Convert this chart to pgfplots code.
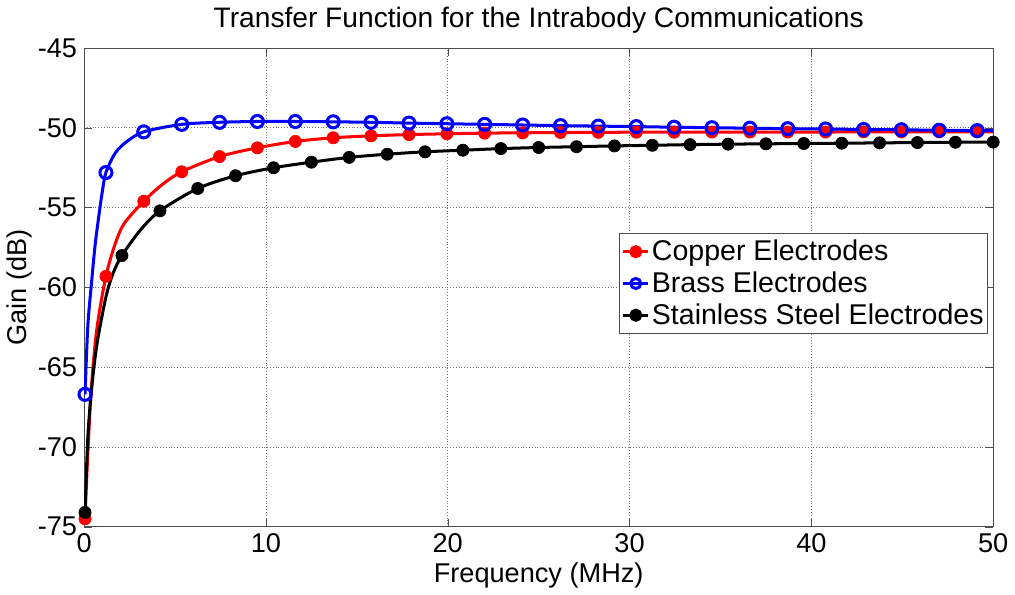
\documentclass[border=0pt]{standalone}
\usepackage{pgfplots}
\pgfplotsset{compat=1.18}
\usepackage{fontspec}
\setmainfont{Liberation Sans}
\begin{document}
\begin{tikzpicture}
\begin{axis}[
  scale only axis, width=452pt, height=238pt,
  xmin=0, xmax=50, ymin=-75, ymax=-45,
  xtick={0,10,...,50}, ytick={-75,-70,...,-45},
  grid=major, major grid style={black!55, densely dotted, line width=0.4pt},
  axis line style={black!70, line width=0.5pt},
  tick align=inside, major tick length=4pt, tick style={black!70},
  ticklabel style={font=\fontsize{13.5}{16}\selectfont},
  /pgf/number format/assume math mode=true,
  title={Transfer Function for the Intrabody Communications},
  title style={font=\fontsize{14}{16}\selectfont, yshift=-2pt},
  xlabel={Frequency (MHz)}, ylabel={Gain (dB)},
  label style={font=\fontsize{13.5}{16}\selectfont},
  xlabel style={yshift=2pt}, ylabel style={yshift=-4pt},
  legend style={at={(rel axis cs:0.9945,0.613)}, anchor=north east,
    font=\fontsize{14.2}{16.5}\selectfont, draw=black!70, line width=0.5pt,
    row sep=0pt, inner sep=1pt, nodes={inner xsep=1pt}, cells={anchor=west}},
  legend image code/.code={\draw[#1] (0pt,0pt) -- (12.5pt,0pt); \draw[#1, mark repeat=1] plot coordinates {(6.25pt,0pt)};},
]
% red line
\addplot[red, line width=1.5pt, smooth, forget plot] coordinates {
(0.05,-74.5)(0.2,-70.5)(0.4,-66.3)(0.7,-62.6)(1.2,-59.3)(1.7,-57.3)(2.2,-56.0)
(3.28,-54.6)(4.3,-53.55)(5.37,-52.75)(7.45,-51.8)(9.53,-51.25)(11.62,-50.85)
(13.7,-50.62)(15.78,-50.5)(17.87,-50.42)(19.95,-50.37)(22.03,-50.33)(24.12,-50.31)
(26.2,-50.29)(28.28,-50.28)(30.37,-50.27)(32.45,-50.27)(34.53,-50.26)(36.62,-50.26)
(38.7,-50.26)(40.78,-50.26)(42.87,-50.25)(44.95,-50.25)(47.03,-50.25)(49.12,-50.25)(50,-50.25)};
% blue line
\addplot[blue, line width=1.5pt, smooth, forget plot] coordinates {
(0.05,-66.7)(0.2,-62.5)(0.4,-59.8)(0.6,-57.4)(0.8,-55.6)(1.0,-54.0)(1.2,-52.8)(1.7,-51.6)(2.3,-50.9)
(3.28,-50.25)(5.37,-49.78)(7.45,-49.65)(9.53,-49.6)(11.62,-49.6)(13.7,-49.62)(15.78,-49.65)
(17.87,-49.7)(19.95,-49.74)(22.03,-49.78)(24.12,-49.82)(26.2,-49.86)(28.28,-49.89)
(30.37,-49.92)(32.45,-49.96)(34.53,-49.99)(36.62,-50.02)(38.7,-50.05)(40.78,-50.07)
(42.87,-50.1)(44.95,-50.12)(47.03,-50.15)(49.12,-50.17)(50,-50.18)};
% black line
\addplot[black, line width=1.5pt, smooth, forget plot] coordinates {
(0.05,-74.1)(0.2,-69.5)(0.4,-66.5)(0.7,-63.6)(1.2,-60.6)(1.6,-59.1)(2.08,-58.0)(3.1,-56.4)
(4.17,-55.2)(6.25,-53.8)(8.33,-53.0)(10.42,-52.5)(12.5,-52.15)(14.58,-51.85)(16.67,-51.65)
(18.75,-51.5)(20.83,-51.4)(22.92,-51.3)(25,-51.23)(27.08,-51.18)(29.17,-51.13)(31.25,-51.09)
(33.33,-51.05)(35.42,-51.02)(37.5,-51.0)(39.58,-50.98)(41.67,-50.96)(43.75,-50.94)
(45.83,-50.92)(47.92,-50.9)(50,-50.89)};
% red markers
\addplot[red, only marks, mark=*, mark size=3pt, forget plot] coordinates {
(0.05,-74.5)(1.2,-59.3)(3.28,-54.6)(5.37,-52.75)(7.45,-51.8)(9.53,-51.25)(11.62,-50.85)
(13.7,-50.62)(15.78,-50.5)(17.87,-50.42)(19.95,-50.37)(22.03,-50.33)(24.12,-50.31)
(26.2,-50.29)(28.28,-50.28)(30.37,-50.27)(32.45,-50.27)(34.53,-50.26)(36.62,-50.26)
(38.7,-50.26)(40.78,-50.26)(42.87,-50.25)(44.95,-50.25)(47.03,-50.25)(49.12,-50.25)};
% blue markers
\addplot[blue, only marks, mark=o, mark size=3pt, line width=1.5pt, forget plot] coordinates {
(0.05,-66.7)(1.2,-52.8)(3.28,-50.25)(5.37,-49.78)(7.45,-49.65)(9.53,-49.6)(11.62,-49.6)(13.7,-49.62)(15.78,-49.65)
(17.87,-49.7)(19.95,-49.74)(22.03,-49.78)(24.12,-49.82)(26.2,-49.86)(28.28,-49.89)
(30.37,-49.92)(32.45,-49.96)(34.53,-49.99)(36.62,-50.02)(38.7,-50.05)(40.78,-50.07)
(42.87,-50.1)(44.95,-50.12)(47.03,-50.15)(49.12,-50.17)};
% black markers
\addplot[black, only marks, mark=*, mark size=3pt, forget plot] coordinates {
(0.05,-74.1)(2.08,-58.0)(4.17,-55.2)(6.25,-53.8)(8.33,-53.0)(10.42,-52.5)(12.5,-52.15)(14.58,-51.85)(16.67,-51.65)
(18.75,-51.5)(20.83,-51.4)(22.92,-51.3)(25,-51.23)(27.08,-51.18)(29.17,-51.13)(31.25,-51.09)
(33.33,-51.05)(35.42,-51.02)(37.5,-51.0)(39.58,-50.98)(41.67,-50.96)(43.75,-50.94)
(45.83,-50.92)(47.92,-50.9)(50,-50.89)};
\addlegendimage{red, line width=1.5pt, mark=*, mark size=2.5pt}
\addlegendentry{Copper Electrodes}
\addlegendimage{blue, line width=1.5pt, mark=o, mark size=2.5pt}
\addlegendentry{Brass Electrodes}
\addlegendimage{black, line width=1.5pt, mark=*, mark size=2.5pt}
\addlegendentry{Stainless Steel Electrodes}
\end{axis}
\end{tikzpicture}
\end{document}
